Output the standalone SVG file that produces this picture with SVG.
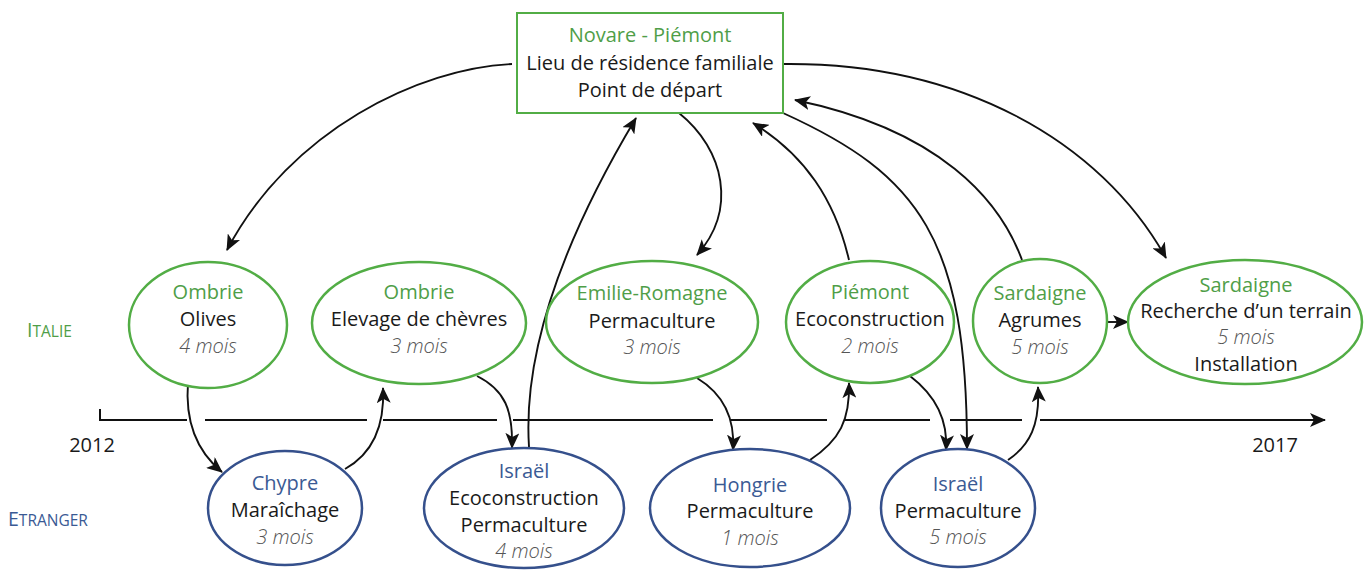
<svg xmlns="http://www.w3.org/2000/svg" width="1368" height="570" viewBox="0 0 1368 570">
<defs>
<style>
text{font-family:"Open Sans","Liberation Sans",sans-serif;font-size:20px;text-anchor:middle;fill:#1a1a1a}
.g{fill:#4f9e48}
.b{fill:#3a5a94}
.i{font-style:italic;fill:#555;font-weight:300}
.eg{fill:#fff;stroke:#52ad45;stroke-width:2.5}
.eb{fill:#fff;stroke:#35508c;stroke-width:2.5}
.c{fill:none;stroke:#111;stroke-width:1.9}
.ax{fill:none;stroke:#111;stroke-width:2}
.lab{text-anchor:start;font-size:15.5px}
</style>
<marker id="ah" viewBox="0 0 16 14" refX="15" refY="7" markerWidth="16" markerHeight="14" markerUnits="userSpaceOnUse" orient="auto">
<path d="M0,0 L16,7 L0,14 L4,7 Z" fill="#111"/>
</marker>
</defs>
<rect width="1368" height="570" fill="#fff"/>

<g id="labels">
<text class="lab g" x="27" y="337"><tspan font-size="19.5">I</tspan>TALIE</text>
<text class="lab b" x="8" y="526"><tspan font-size="19.5">E</tspan>TRANGER</text>
<text x="92" y="452">2012</text>
<text x="1275" y="452">2017</text>
</g>

<g id="timeline">
<path class="ax" d="M100,409 V420 H187 M205,420 H367 M383,420 H497 M513,420 H713 M730,420 H827 M845,420 H930 M950,420 H1022 M1040,420 H1325" marker-end="url(#ah)"/>
</g>

<g id="connectors">
<path class="c" d="M512,64 C420,68 290,130 227,250" marker-end="url(#ah)"/>
<path class="c" d="M679,113 C725,150 737,210 697,255" marker-end="url(#ah)"/>
<path class="c" d="M529,447 C522,340 575,220 636,118" marker-end="url(#ah)"/>
<path class="c" d="M849,260 C835,200 805,155 753,123" marker-end="url(#ah)"/>
<path class="c" d="M783,113 C920,175 967,240 967,449" marker-end="url(#ah)"/>
<path class="c" d="M1022,260 C1000,200 940,130 795,100" marker-end="url(#ah)"/>
<path class="c" d="M783,64 C960,62 1100,140 1166,258" marker-end="url(#ah)"/>
<path class="c" d="M1107,322 H1128" marker-end="url(#ah)"/>
<path class="c" d="M188,382 C185,420 195,450 222,472" marker-end="url(#ah)"/>
<path class="c" d="M345,469 C370,455 385,430 383,388" marker-end="url(#ah)"/>
<path class="c" d="M477,376 C505,390 513,410 512,448" marker-end="url(#ah)"/>
<path class="c" d="M697,378 C725,395 735,420 733,450" marker-end="url(#ah)"/>
<path class="c" d="M810,460 C840,440 850,420 849,383" marker-end="url(#ah)"/>
<path class="c" d="M910,376 C935,395 948,420 946,450" marker-end="url(#ah)"/>
<path class="c" d="M1008,460 C1030,445 1040,425 1038,387" marker-end="url(#ah)"/>
</g>

<g id="novare">
<rect x="517" y="13" width="266" height="100" fill="#fff" stroke="#52ad45" stroke-width="2"/>
<text class="g" x="650" y="42">Novare - Piémont</text>
<text x="650" y="70">Lieu de résidence familiale</text>
<text x="650" y="97">Point de départ</text>
</g>

<g id="ombrie-olives">
<ellipse class="eg" cx="208" cy="325" rx="79" ry="63"/>
<text class="g" x="208" y="299">Ombrie</text>
<text x="208" y="326">Olives</text>
<text class="i" x="208" y="353">4 mois</text>
</g>

<g id="ombrie-chevres">
<ellipse class="eg" cx="419" cy="323" rx="107" ry="61"/>
<text class="g" x="419" y="299">Ombrie</text>
<text x="419" y="326">Elevage de chèvres</text>
<text class="i" x="419" y="353">3 mois</text>
</g>

<g id="emilie-romagne">
<ellipse class="eg" cx="652" cy="322" rx="106" ry="61"/>
<text class="g" x="652" y="300">Emilie-Romagne</text>
<text x="652" y="328">Permaculture</text>
<text class="i" x="652" y="354">3 mois</text>
</g>

<g id="piemont">
<ellipse class="eg" cx="870" cy="322" rx="84" ry="61"/>
<text class="g" x="870" y="299">Piémont</text>
<text x="870" y="326">Ecoconstruction</text>
<text class="i" x="870" y="353">2 mois</text>
</g>

<g id="sardaigne-agrumes">
<ellipse class="eg" cx="1040" cy="321" rx="67" ry="62"/>
<text class="g" x="1040" y="300">Sardaigne</text>
<text x="1040" y="327">Agrumes</text>
<text class="i" x="1040" y="354">5 mois</text>
</g>

<g id="sardaigne-terrain">
<ellipse class="eg" cx="1245" cy="322" rx="117" ry="62"/>
<text class="g" x="1246" y="292">Sardaigne</text>
<text x="1246" y="318">Recherche d’un terrain</text>
<text class="i" x="1246" y="344">5 mois</text>
<text x="1246" y="371">Installation</text>
</g>

<g id="chypre">
<ellipse class="eb" cx="285" cy="508" rx="77" ry="57"/>
<text class="b" x="285" y="490">Chypre</text>
<text x="285" y="517">Maraîchage</text>
<text class="i" x="285" y="544">3 mois</text>
</g>

<g id="israel-1">
<ellipse class="eb" cx="524" cy="508" rx="100" ry="60"/>
<text class="b" x="524" y="478">Israël</text>
<text x="524" y="505">Ecoconstruction</text>
<text x="524" y="532">Permaculture</text>
<text class="i" x="524" y="558">4 mois</text>
</g>

<g id="hongrie">
<ellipse class="eb" cx="750" cy="508" rx="100" ry="59"/>
<text class="b" x="750" y="492">Hongrie</text>
<text x="750" y="518">Permaculture</text>
<text class="i" x="750" y="545">1 mois</text>
</g>

<g id="israel-2">
<ellipse class="eb" cx="958" cy="508" rx="77" ry="59"/>
<text class="b" x="958" y="491">Israël</text>
<text x="958" y="518">Permaculture</text>
<text class="i" x="958" y="544">5 mois</text>
</g>
</svg>
